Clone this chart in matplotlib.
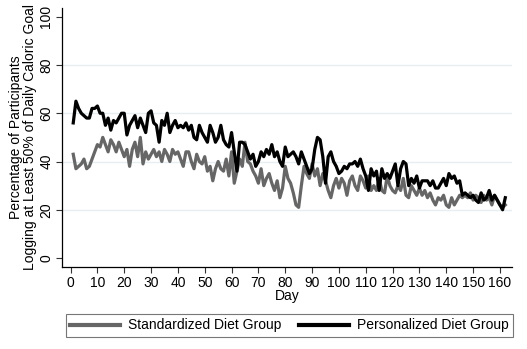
import matplotlib
matplotlib.use("Agg")
import matplotlib.pyplot as plt
import numpy as np

plt.rcParams['font.family'] = ['Liberation Sans', 'DejaVu Sans']

days = list(range(1, 163))

personalized = [
    56, 65, 62, 60, 59, 58, 58, 62, 62, 63,
    60, 60, 55, 58, 53, 57, 56, 58, 60, 60,
    51, 55, 57, 59, 54, 58, 55, 52, 60, 61,
    56, 55, 48, 57, 55, 60, 52, 55, 57, 54,
    55, 54, 56, 53, 55, 50, 49, 55, 52, 50,
    48, 55, 52, 48, 50, 55, 49, 47, 46, 52,
    44, 36, 48, 48, 47, 44, 41, 43, 38, 40,
    44, 42, 45, 43, 47, 42, 44, 40, 38, 46,
    42, 43, 44, 42, 39, 44, 41, 38, 35, 37,
    45, 50, 49, 42, 31, 42, 44, 40, 38, 35,
    36, 38, 37, 39, 39, 40, 38, 41, 37, 34,
    28, 37, 34, 36, 28, 37, 33, 35, 33, 36,
    39, 30, 37, 40, 39, 30, 33, 31, 34, 29,
    32, 32, 32, 30, 32, 29, 29, 31, 33, 30,
    35, 33, 34, 31, 32, 26, 27, 26, 25, 26,
    24, 23, 27, 24, 25, 28, 24, 26, 24, 22,
    20, 25,
]

standardized = [
    43, 37, 38, 39, 41, 37, 38, 41, 44, 47,
    46, 50, 47, 44, 49, 47, 44, 48, 45, 42,
    45, 38, 45, 48, 42, 50, 39, 44, 41, 43,
    45, 42, 44, 40, 45, 43, 40, 45, 43, 44,
    41, 38, 44, 44, 40, 37, 43, 40, 39, 42,
    36, 38, 32, 37, 40, 37, 36, 41, 34, 44,
    31, 36, 41, 38, 48, 40, 39, 36, 34, 31,
    37, 30, 33, 35, 31, 28, 32, 25, 29, 38,
    33, 31, 27, 22, 21, 30, 38, 35, 33, 39,
    34, 37, 30, 35, 32, 28, 25, 30, 33, 29,
    33, 31, 26, 32, 34, 30, 28, 34, 32, 29,
    34, 28, 30, 28, 33, 28, 27, 34, 30, 28,
    27, 30, 28, 33, 26, 25, 30, 28, 26, 29,
    26, 28, 25, 27, 24, 22, 25, 24, 26, 22,
    21, 25, 22, 24, 26, 25, 26, 25, 27, 24,
    26, 25, 23, 26, 24, 25, 22, 26, 24, 22,
    21, 22,
]

xticks = list(range(0, 161, 10))
yticks = [0, 20, 40, 60, 80, 100]

FS = 10
W, H = 527, 349
fig = plt.figure(figsize=(W / 100, H / 100), dpi=100)
fig.patch.set_facecolor('white')
left, right, top, bottom = 61.7, 512, 8.3, 266.7
ax = fig.add_axes([left / W, 1 - bottom / H, (right - left) / W, (bottom - top) / H])

for y in [20, 40, 60, 80]:
    ax.axhline(y, color='#e6eef0', lw=1.0, zorder=0)

l1, = ax.plot(days, standardized, color='#666666', lw=2.3, solid_joinstyle='round',
              label='Standardized Diet Group', zorder=2)
l2, = ax.plot(days, personalized, color='black', lw=2.3, solid_joinstyle='round',
              label='Personalized Diet Group', zorder=3)

ax.set_xlim(-3.3, 164.5)
ax.set_ylim(-3.6, 103.5)
ax.set_xticks(xticks)
ax.set_yticks(yticks)
ax.set_yticklabels([str(v) for v in yticks], rotation=90, va='center')
ax.tick_params(axis='both', direction='out', length=4, width=0.8, labelsize=FS,
               color='#333333')
ax.tick_params(axis='y', pad=2)
ax.tick_params(axis='x', pad=3)
for s in ['top', 'right']:
    ax.spines[s].set_visible(False)
for s in ['left', 'bottom']:
    ax.spines[s].set_linewidth(0.9)
ax.set_xlabel('Day', fontsize=FS, labelpad=-1)
ax.set_ylabel('Percentage of Participants\nLogging at Least 50% of Daily Caloric Goal',
              fontsize=FS, labelpad=2, linespacing=1.0)

leg = fig.legend(handles=[l1, l2], loc='center',
                 bbox_to_anchor=(66 / W, 1 - 337 / H, (513 - 66) / W, 23 / H),
                 mode='expand', ncol=2, fontsize=FS, handlelength=3.6,
                 handletextpad=0.6, frameon=True, fancybox=False,
                 borderaxespad=0, borderpad=0.3)
leg.get_frame().set_edgecolor('#555555')
leg.get_frame().set_linewidth(0.8)
for h in leg.get_lines():
    h.set_linewidth(3.0)

fig.savefig('out.png', dpi=100)
